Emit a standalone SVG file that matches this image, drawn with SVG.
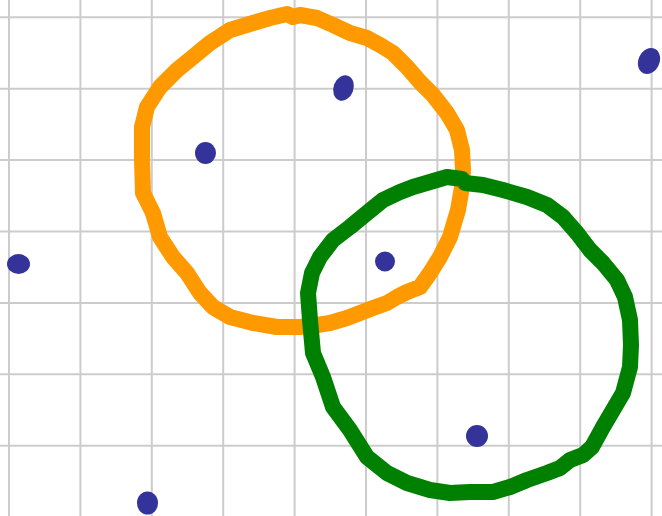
<svg xmlns="http://www.w3.org/2000/svg" width="662" height="516" viewBox="0 0 662 516">
<style>
.grid line{stroke:#cccccc;stroke-width:2}
.loop{fill:none;stroke-width:16;stroke-linejoin:round;stroke-linecap:round}
.dot{fill:#333399}
</style>
<rect width="662" height="516" fill="#ffffff"/>
<g class="grid">
<line x1="9" y1="0" x2="9" y2="516"/>
<line x1="80.4" y1="0" x2="80.4" y2="516"/>
<line x1="151.8" y1="0" x2="151.8" y2="516"/>
<line x1="223.2" y1="0" x2="223.2" y2="516"/>
<line x1="294.6" y1="0" x2="294.6" y2="516"/>
<line x1="366" y1="0" x2="366" y2="516"/>
<line x1="437.4" y1="0" x2="437.4" y2="516"/>
<line x1="508.8" y1="0" x2="508.8" y2="516"/>
<line x1="580.2" y1="0" x2="580.2" y2="516"/>
<line x1="651.6" y1="0" x2="651.6" y2="516"/>
<line x1="0" y1="17.3" x2="662" y2="17.3"/>
<line x1="0" y1="88.7" x2="662" y2="88.7"/>
<line x1="0" y1="160.1" x2="662" y2="160.1"/>
<line x1="0" y1="231.5" x2="662" y2="231.5"/>
<line x1="0" y1="302.9" x2="662" y2="302.9"/>
<line x1="0" y1="374.3" x2="662" y2="374.3"/>
<line x1="0" y1="445.7" x2="662" y2="445.7"/>
</g>
<g id="orange-loop">
<polygon class="loop" stroke="#ff9900" points="293,17 300,15 317,18 333,25 350,33 367,38 380,45 393,53 407,67 420,82 433,95 447,113 457,130 462,150 463,170 462,187 458,210 450,237 440,257 430,273 420,287 407,292 397,297 387,303 373,308 360,313 347,318 330,323 317,325 300,327 277,327 253,323 230,317 213,307 200,293 187,273 173,257 160,237 153,213 143,193 142,160 142,127 147,107 160,87 177,70 193,57 210,43 230,30 253,23 270,18 287,14"/>
</g>
<g id="green-loop">
<polygon class="loop" stroke="#008000" points="465,183 483,185 503,190 527,197 547,205 563,217 577,233 590,250 603,263 617,280 625,297 630,320 631,345 630,367 623,393 613,410 603,427 592,447 583,455 570,460 560,468 547,473 527,480 510,487 493,492 470,492 450,493 430,490 407,483 387,473 367,457 350,430 333,407 323,377 313,353 310,320 308,293 312,273 320,257 333,240 350,227 367,213 383,200 400,192 413,187 430,182 447,177 462,179"/>
</g>
<g id="dots">
<ellipse class="dot" cx="205.5" cy="153" rx="10.5" ry="11"/>
<ellipse class="dot" cx="343.5" cy="88" rx="10" ry="13" transform="rotate(20 343.5 88)"/>
<ellipse class="dot" cx="649" cy="61" rx="10.5" ry="13.5" transform="rotate(25 649 61)"/>
<ellipse class="dot" cx="18.5" cy="264" rx="11.5" ry="10"/>
<ellipse class="dot" cx="385" cy="261.5" rx="10" ry="10"/>
<ellipse class="dot" cx="477" cy="436" rx="11" ry="11"/>
<ellipse class="dot" cx="147.5" cy="503" rx="10.5" ry="11.5"/>
</g>
</svg>
